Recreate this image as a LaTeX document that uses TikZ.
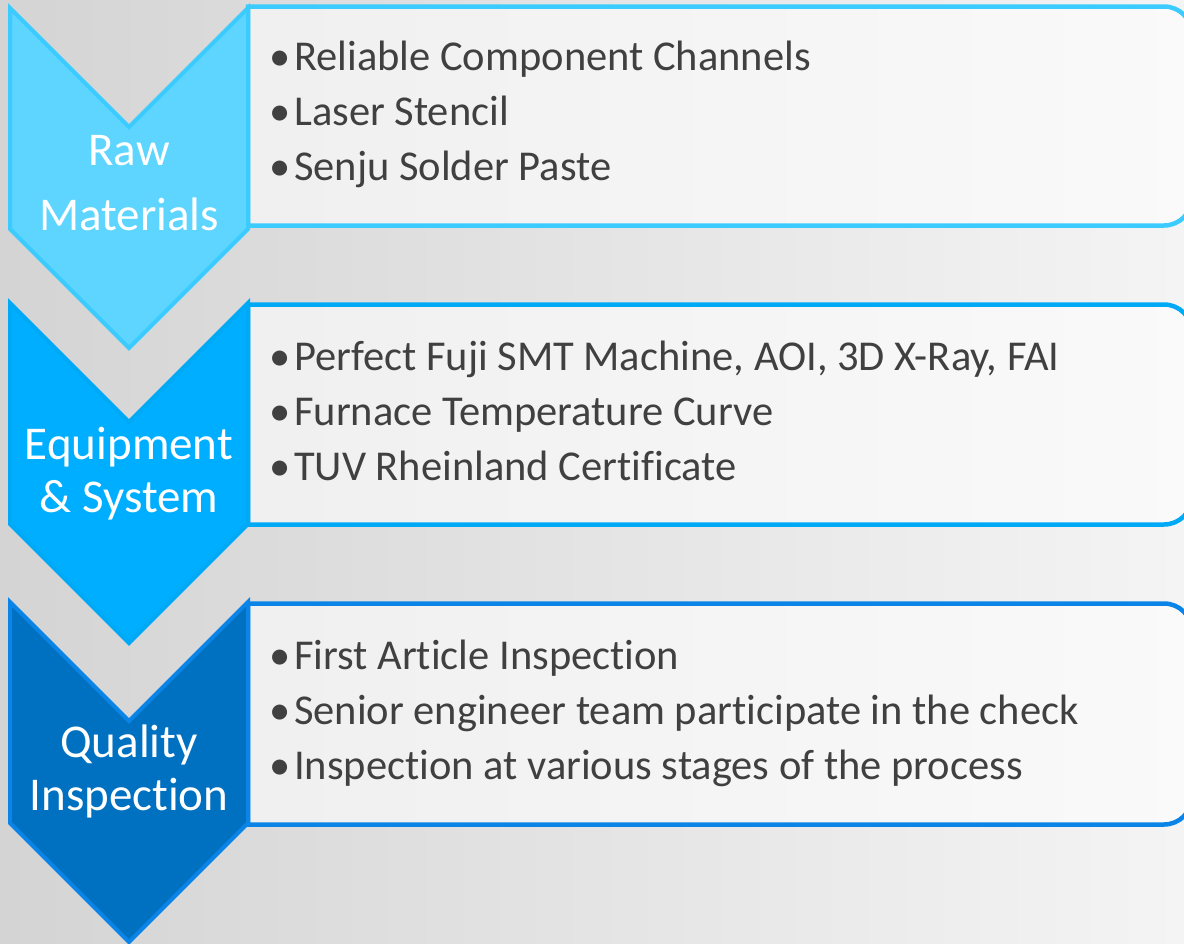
\documentclass[tikz,border=0pt]{standalone}
\usepackage{fontspec}
\setmainfont{Carlito}[Ligatures=NoCommon]
\usetikzlibrary{calc}
\definecolor{rawfill}{HTML}{5DD5FF}
\definecolor{rawline}{HTML}{3BCBFF}
\definecolor{equipfill}{HTML}{00AEFF}
\definecolor{equipline}{HTML}{00A9F6}
\definecolor{qualfill}{HTML}{0070C0}
\definecolor{qualline}{HTML}{0A84E6}
\definecolor{bgdark}{HTML}{D4D4D4}
\definecolor{bglight}{HTML}{F4F4F4}
\definecolor{txtgray}{HTML}{404040}
\def\chevron[#1](#2){\draw[#1] (10,#2) -- (129,#2+119) -- (248,#2) -- (248,#2+221) -- (129,#2+340) -- (10,#2+221) -- cycle;}
\def\listbox[#1](#2:#3){\draw[#1] (248,#2) -- (1100,#2) [rounded corners=28] -- (1192,#2) -- (1192,#3) -- (1100,#3) [sharp corners] -- (248,#3) -- cycle;}
\newcommand{\itm}[1]{\makebox[25pt][l]{\textbullet}#1}
\tikzset{
  boxline/.style={line width=4.5pt, left color=black!6, right color=black!2},
  chevline/.style={line width=4pt, line join=miter},
  chevtext/.style={anchor=base, align=center, text=white, inner sep=0pt, font=\fontsize{47}{53}\selectfont},
  itemtext/.style={anchor=base west, align=left, text=txtgray, inner sep=0pt, font=\fontsize{42.5}{55}\selectfont},
}

\begin{document}
\begin{tikzpicture}[x=1pt,y=-1pt]
	%%%%% START %%%%%
	\useasboundingbox (0,0) rectangle (1184,943);
	\clip (0,0) rectangle (1184,943);
	\shade[left color=bgdark, right color=bglight] (0,0) rectangle (1184,943);
	
	\listbox[boxline, draw=rawline](6.5:225.5);
	\listbox[boxline, draw=equipline](304.5:524.5);
	\listbox[boxline, draw=qualline](603.5:824.5);
	
	\chevron[chevline, draw=rawline, fill=rawfill](8);
	\chevron[chevline, draw=equipline, fill=equipfill](303);
	\chevron[chevline, draw=qualline, fill=qualfill](602);
	
	\node[chevtext] (raw) at (129,230) {Raw\\[12pt]Materials};
	\node[chevtext] (equip) at (129,512) {Equipment\\\& System};
	\node[chevtext] (qual) at (129,810) {Quality\\Inspection};
	
	\node[itemtext] (rawlist) at (269,180) {\itm{Reliable Component Channels}\\\itm{Laser Stencil}\\\itm{Senju Solder Paste}};
	\node[itemtext] (equiplist) at (269,480) {\itm{Perfect Fuji SMT Machine, AOI, 3D X-Ray, FAI}\\\itm{Furnace Temperature Curve}\\\itm{TUV Rheinland Certificate}};
	\node[itemtext] (quallist) at (269,779) {\itm{First Article Inspection}\\\itm{Senior engineer team participate in the check}\\\itm{Inspection at various stages of the process}};
	%%%%% END %%%%%
\end{tikzpicture}
\end{document}
